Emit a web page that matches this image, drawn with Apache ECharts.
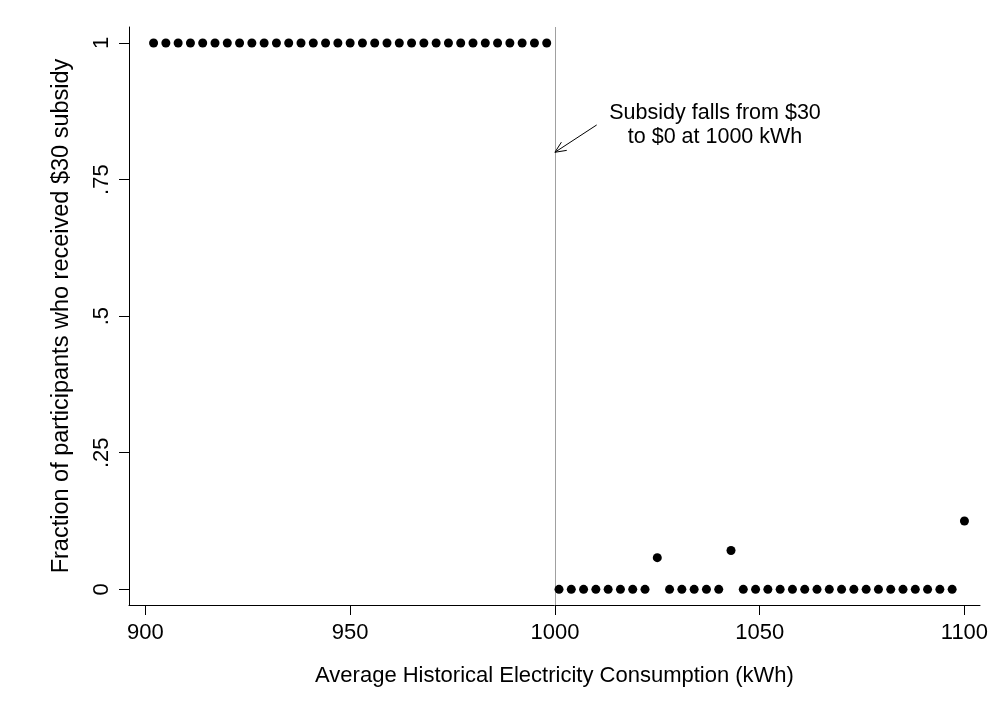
<!DOCTYPE html>
<html>
<head>
<meta charset="utf-8">
<title>Subsidy take-up around the 1000 kWh threshold</title>
<script src="https://cdn.jsdelivr.net/npm/echarts@6/dist/echarts.min.js"></script>
<style>
  html, body { margin: 0; padding: 0; background: #ffffff; }
  #chart { width: 998px; height: 728px; }
</style>
</head>
<body>
<div id="chart"></div>
<script>
// Bin centres (kWh) of average historical consumption, 3 kWh wide
const consumption = [
  902, 905, 908, 911, 914, 917, 920, 923, 926, 929, 932, 935, 938, 941, 944, 947, 950,
  953, 956, 959, 962, 965, 968, 971, 974, 977, 980, 983, 986, 989, 992, 995, 998,
  1001, 1004, 1007, 1010, 1013, 1016, 1019, 1022, 1025, 1028, 1031, 1034, 1037, 1040,
  1043, 1046, 1049, 1052, 1055, 1058, 1061, 1064, 1067, 1070, 1073, 1076, 1079, 1082,
  1085, 1088, 1091, 1094, 1097, 1100
];
// Fraction of participants in each bin who received the $30 subsidy
const fractionSubsidy = [
  1, 1, 1, 1, 1, 1, 1, 1, 1, 1, 1, 1, 1, 1, 1, 1, 1,
  1, 1, 1, 1, 1, 1, 1, 1, 1, 1, 1, 1, 1, 1, 1, 1,
  0, 0, 0, 0, 0, 0, 0, 0, 0.058, 0, 0, 0, 0, 0,
  0.071, 0, 0, 0, 0, 0, 0, 0, 0, 0, 0, 0, 0, 0,
  0, 0, 0, 0, 0, 0.125
];
const xTicks = [900, 950, 1000, 1050, 1100];
const yTicks = [0, 0.25, 0.5, 0.75, 1];
const yTickLabels = ['0', '.25', '.5', '.75', '1'];
const threshold = 1000;
const noteText = ['Subsidy falls from $30', 'to $0 at 1000 kWh'];

const points = consumption.map((x, i) => [x, fractionSubsidy[i]]);
const FONT = '"Liberation Sans", Arial, Helvetica, sans-serif';

const chart = echarts.init(document.getElementById('chart'), null, { renderer: 'canvas' });

chart.setOption({
  animation: false,
  backgroundColor: '#ffffff',
  grid: { left: 129, right: 18, top: 27, bottom: 123 },
  xAxis: {
    type: 'value',
    min: 896.0,
    max: 1103.8,
    name: 'Average Historical Electricity Consumption (kWh)',
    nameLocation: 'middle',
    nameGap: 60,
    nameTextStyle: { fontFamily: FONT, fontSize: 22, color: '#000' },
    axisLine: { show: true, onZero: false, lineStyle: { color: '#000', width: 1 } },
    axisTick: { show: true, length: 10, lineStyle: { color: '#000', width: 1 }, customValues: xTicks },
    axisLabel: {
      fontFamily: FONT, fontSize: 22, color: '#000', margin: 17,
      customValues: xTicks,
      formatter: v => String(Math.round(v))
    },
    splitLine: { show: false }
  },
  yAxis: {
    type: 'value',
    min: -0.0287,
    max: 1.0293,
    name: 'Fraction of participants who received $30 subsidy',
    nameLocation: 'middle',
    nameGap: 55,
    nameTextStyle: { fontFamily: FONT, fontSize: 23.5, color: '#000' },
    axisLine: { show: true, onZero: false, lineStyle: { color: '#000', width: 1 } },
    axisTick: { show: true, length: 10, lineStyle: { color: '#000', width: 1 }, customValues: yTicks },
    axisLabel: {
      fontFamily: FONT, fontSize: 22, color: '#000', margin: 16, rotate: 90,
      customValues: yTicks,
      formatter: v => {
        const k = yTicks.findIndex(t => Math.abs(t - v) < 1e-9);
        return k >= 0 ? yTickLabels[k] : '';
      }
    },
    splitLine: { show: false }
  },
  series: [
    {
      type: 'scatter',
      data: points,
      symbol: 'circle',
      symbolSize: 9,
      itemStyle: { color: '#000', opacity: 1 },
      z: 3,
      markLine: {
        silent: true,
        symbol: ['none', 'none'],
        label: { show: false },
        lineStyle: { color: '#a0a0a0', width: 1, type: 'solid' },
        data: [{ xAxis: threshold }],
        z: 1
      }
    },
    {
      // annotation: note text with an open arrow pointing at the threshold
      type: 'custom',
      silent: true,
      data: [[threshold, 0.80]],
      renderItem: (params, api) => {
        const tip = api.coord([threshold, 0.80]);
        const tail = api.coord([1010.2, 0.85]);
        const textPos = api.coord([1039.1, 0.85]);
        const ang = Math.atan2(tail[1] - tip[1], tail[0] - tip[0]);
        const headLen = 12, spread = 0.42;
        const h1 = [tip[0] + headLen * Math.cos(ang + spread), tip[1] + headLen * Math.sin(ang + spread)];
        const h2 = [tip[0] + headLen * Math.cos(ang - spread), tip[1] + headLen * Math.sin(ang - spread)];
        return {
          type: 'group',
          children: [
            { type: 'line', shape: { x1: tail[0], y1: tail[1], x2: tip[0], y2: tip[1] }, style: { stroke: '#000', lineWidth: 1 } },
            { type: 'polyline', shape: { points: [h1, tip, h2] }, style: { stroke: '#000', lineWidth: 1, fill: null } },
            {
              type: 'text',
              x: textPos[0], y: textPos[1],
              style: {
                text: noteText.join('\n'),
                fontFamily: FONT, fontSize: 21.5, fill: '#000',
                align: 'center', verticalAlign: 'middle', lineHeight: 24
              }
            }
          ]
        };
      }
    }
  ]
});
</script>
</body>
</html>
